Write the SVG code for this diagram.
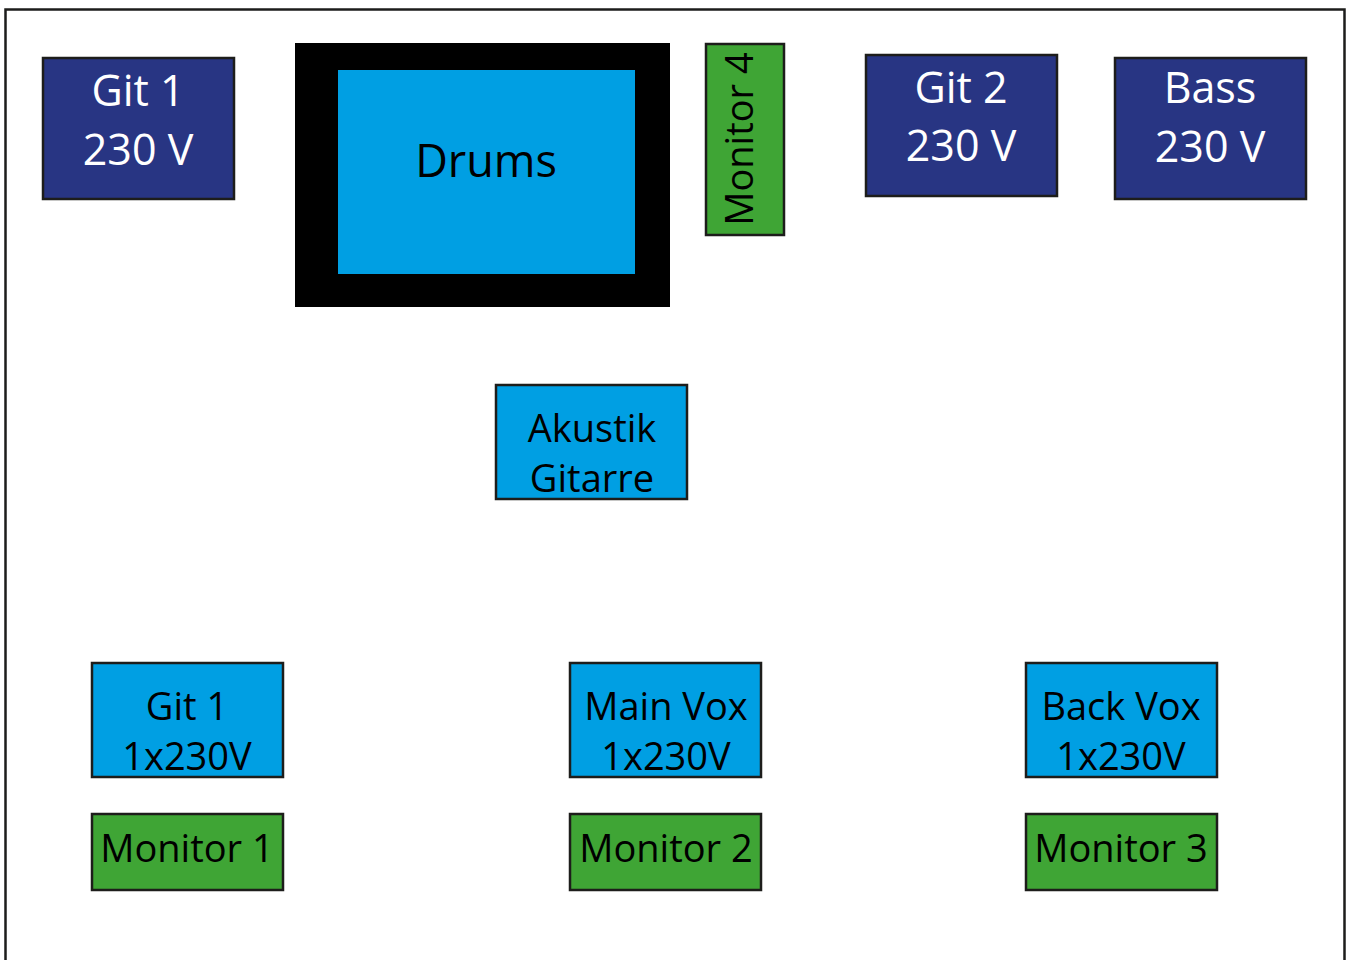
<svg xmlns="http://www.w3.org/2000/svg" width="1352" height="960" viewBox="0 0 1352 960">
<style>
.box{stroke:#1d1d1b;stroke-width:2.5}
.dk{fill:#283583}
.lt{fill:#009fe3}
.gr{fill:#3fa535}
text{font-family:"Open Sans","Noto Sans","Liberation Sans",sans-serif;text-anchor:middle}
.w{fill:#ffffff;font-size:43px}
.b{fill:#000000;font-size:38px}
</style>
<rect width="1352" height="960" fill="#ffffff"/>
<path d="M5.5,960 V9.5 H1344.5 V960" fill="none" stroke="#1d1d1b" stroke-width="2.5"/>
<g id="git1-top">
<rect class="box dk" x="43" y="58" width="191" height="141"/>
<text class="w" x="138" y="106">Git 1</text>
<text class="w" x="138" y="165">230 V</text>
</g>
<g id="drums">
<rect x="295" y="43" width="375" height="264" fill="#000000"/>
<rect class="lt" x="338" y="70" width="297" height="204"/>
<text class="b" x="486" y="177" style="font-size:45px">Drums</text>
</g>
<g id="monitor4">
<rect class="box gr" x="706" y="44" width="78" height="191"/>
<text class="b" transform="translate(753,139) rotate(-90)" x="0" y="0">Monitor 4</text>
</g>
<g id="git2">
<rect class="box dk" x="866" y="55" width="191" height="141"/>
<text class="w" x="961" y="103">Git 2</text>
<text class="w" x="961" y="161">230 V</text>
</g>
<g id="bass">
<rect class="box dk" x="1115" y="58" width="191" height="141"/>
<text class="w" x="1210" y="103">Bass</text>
<text class="w" x="1210" y="162">230 V</text>
</g>
<g id="akustik">
<rect class="box lt" x="496" y="385" width="191" height="114"/>
<text class="b" x="592" y="442">Akustik</text>
<text class="b" x="592" y="492">Gitarre</text>
</g>
<g id="git1-low">
<rect class="box lt" x="92" y="663" width="191" height="114"/>
<text class="b" x="187" y="720">Git 1</text>
<text class="b" x="187" y="770">1x230V</text>
</g>
<g id="monitor1">
<rect class="box gr" x="92" y="814" width="191" height="76"/>
<text class="b" x="187" y="862">Monitor 1</text>
</g>
<g id="mainvox">
<rect class="box lt" x="570" y="663" width="191" height="114"/>
<text class="b" x="666" y="720">Main Vox</text>
<text class="b" x="666" y="770">1x230V</text>
</g>
<g id="monitor2">
<rect class="box gr" x="570" y="814" width="191" height="76"/>
<text class="b" x="666" y="862">Monitor 2</text>
</g>
<g id="backvox">
<rect class="box lt" x="1026" y="663" width="191" height="114"/>
<text class="b" x="1121" y="720">Back Vox</text>
<text class="b" x="1121" y="770">1x230V</text>
</g>
<g id="monitor3">
<rect class="box gr" x="1026" y="814" width="191" height="76"/>
<text class="b" x="1121" y="862">Monitor 3</text>
</g>
<g id="connectors"></g>
</svg>
